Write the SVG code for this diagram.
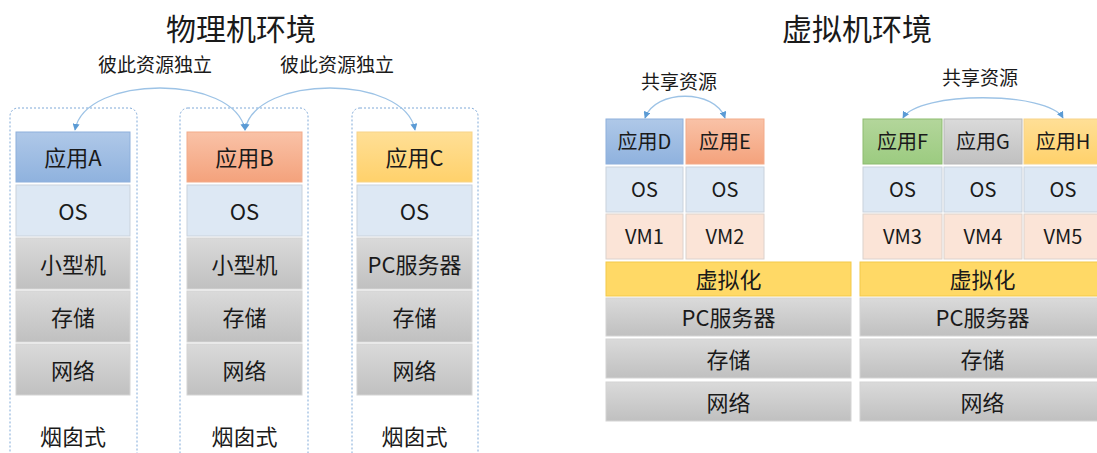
<svg xmlns="http://www.w3.org/2000/svg" width="1097" height="453" viewBox="0 0 1097 453">
<style>
text{font-family:"Microsoft YaHei","Noto Sans CJK SC","Liberation Sans",sans-serif;fill:#1a1a1a;text-anchor:middle;dominant-baseline:central}
.t{font-size:30px}
.l{font-size:19px}
.b{font-size:22px}
.s{font-size:20px}
.cont{fill:none;stroke:#7fa9d8;stroke-width:1;stroke-dasharray:2 2}
.blue{fill:url(#gBlue);stroke:#8eb0dc}
.orange{fill:url(#gOrange);stroke:#f3ab8a}
.yellow{fill:url(#gYellow);stroke:#f7d489}
.green{fill:url(#gGreen);stroke:#8dbb70}
.grayapp{fill:url(#gGray);stroke:#b8b8b8}
.os{fill:#dde8f4;stroke:#c9d2dc}
.gray{fill:url(#gGray);stroke:#d4d4d4}
.vm{fill:#fbe4d7;stroke:#dcd2cc}
.virt{fill:#ffd966;stroke:#f3c94a}
.arc{fill:none;stroke:#9dc3e6;stroke-width:1.3;marker-start:url(#ah);marker-end:url(#ah)}
</style>
<defs>
<linearGradient id="gBlue" x1="0" y1="0" x2="0" y2="1"><stop offset="0" stop-color="#afc8e8"/><stop offset="1" stop-color="#8fb2de"/></linearGradient>
<linearGradient id="gOrange" x1="0" y1="0" x2="0" y2="1"><stop offset="0" stop-color="#f9c2a7"/><stop offset="1" stop-color="#f4a27c"/></linearGradient>
<linearGradient id="gYellow" x1="0" y1="0" x2="0" y2="1"><stop offset="0" stop-color="#ffdf96"/><stop offset="1" stop-color="#ffd16b"/></linearGradient>
<linearGradient id="gGreen" x1="0" y1="0" x2="0" y2="1"><stop offset="0" stop-color="#b3d69b"/><stop offset="1" stop-color="#9ccb80"/></linearGradient>
<linearGradient id="gGray" x1="0" y1="0" x2="0" y2="1"><stop offset="0" stop-color="#dadada"/><stop offset="1" stop-color="#c0c0c0"/></linearGradient>
<marker id="ah" viewBox="0 0 10 10" refX="9" refY="5" markerWidth="7" markerHeight="7" markerUnits="userSpaceOnUse" orient="auto-start-reverse"><path d="M0,0 L10,5 L0,10 z" fill="#5b9bd5"/></marker>
</defs>

<g id="titles">
<text class="t" x="241" y="27">物理机环境</text>
<text class="t" x="857" y="27">虚拟机环境</text>
<text class="l" x="155" y="63">彼此资源独立</text>
<text class="l" x="337" y="63">彼此资源独立</text>
<text class="l" x="679" y="80">共享资源</text>
<text class="l" x="980" y="76">共享资源</text>
</g>

<g id="stackA">
<rect class="cont" x="10" y="108" width="127" height="360" rx="8"/>
<rect class="blue" x="16" y="132" width="114" height="50"/><text class="b" x="73" y="156">应用A</text>
<rect class="os" x="16" y="185" width="114" height="51"/><text class="b" x="73" y="209.5">OS</text>
<rect class="gray" x="16" y="238" width="114" height="51"/><text class="b" x="73" y="262.5">小型机</text>
<rect class="gray" x="16" y="291" width="114" height="51"/><text class="b" x="73" y="315.5">存储</text>
<rect class="gray" x="16" y="344" width="114" height="51"/><text class="b" x="73" y="368.5">网络</text>
<text class="b" x="73" y="435">烟囱式</text>
</g>

<g id="stackB">
<rect class="cont" x="180" y="108" width="128" height="360" rx="8"/>
<rect class="orange" x="187" y="132" width="115" height="50"/><text class="b" x="244.5" y="156">应用B</text>
<rect class="os" x="187" y="185" width="115" height="51"/><text class="b" x="244.5" y="209.5">OS</text>
<rect class="gray" x="187" y="238" width="115" height="51"/><text class="b" x="244.5" y="262.5">小型机</text>
<rect class="gray" x="187" y="291" width="115" height="51"/><text class="b" x="244.5" y="315.5">存储</text>
<rect class="gray" x="187" y="344" width="115" height="51"/><text class="b" x="244.5" y="368.5">网络</text>
<text class="b" x="244.5" y="435">烟囱式</text>
</g>

<g id="stackC">
<rect class="cont" x="352" y="108" width="126" height="360" rx="8"/>
<rect class="yellow" x="357" y="132" width="115" height="50"/><text class="b" x="414.5" y="156">应用C</text>
<rect class="os" x="357" y="185" width="115" height="51"/><text class="b" x="414.5" y="209.5">OS</text>
<rect class="gray" x="357" y="238" width="115" height="51"/><text class="b" x="414.5" y="262.5">PC服务器</text>
<rect class="gray" x="357" y="291" width="115" height="51"/><text class="b" x="414.5" y="315.5">存储</text>
<rect class="gray" x="357" y="344" width="115" height="51"/><text class="b" x="414.5" y="368.5">网络</text>
<text class="b" x="414.5" y="435">烟囱式</text>
</g>

<g id="virt1">
<rect class="blue" x="606" y="119" width="77" height="45"/><text class="s" x="644.5" y="140.5">应用D</text>
<rect class="orange" x="686" y="119" width="78" height="45"/><text class="s" x="725" y="140.5">应用E</text>
<rect class="os" x="606" y="167" width="77" height="45"/><text class="s" x="644.5" y="188.5">OS</text>
<rect class="os" x="686" y="167" width="78" height="45"/><text class="s" x="725" y="188.5">OS</text>
<rect class="vm" x="606" y="214" width="77" height="45"/><text class="s" x="644.5" y="235.5">VM1</text>
<rect class="vm" x="686" y="214" width="78" height="45"/><text class="s" x="725" y="235.5">VM2</text>
<rect class="virt" x="606" y="262" width="245" height="34"/><text class="b" x="728.5" y="278">虚拟化</text>
<rect class="gray" x="606" y="298" width="245" height="38"/><text class="b" x="728.5" y="316">PC服务器</text>
<rect class="gray" x="606" y="339" width="245" height="39"/><text class="b" x="728.5" y="357.5">存储</text>
<rect class="gray" x="606" y="382" width="245" height="39"/><text class="b" x="728.5" y="400.5">网络</text>
</g>

<g id="virt2">
<rect class="green" x="863" y="119" width="79" height="45"/><text class="s" x="902.5" y="140.5">应用F</text>
<rect class="grayapp" x="944" y="119" width="78" height="45"/><text class="s" x="983" y="140.5">应用G</text>
<rect class="yellow" x="1024" y="119" width="78" height="45"/><text class="s" x="1063" y="140.5">应用H</text>
<rect class="os" x="863" y="167" width="79" height="45"/><text class="s" x="902.5" y="188.5">OS</text>
<rect class="os" x="944" y="167" width="78" height="45"/><text class="s" x="983" y="188.5">OS</text>
<rect class="os" x="1024" y="167" width="78" height="45"/><text class="s" x="1063" y="188.5">OS</text>
<rect class="vm" x="863" y="214" width="79" height="45"/><text class="s" x="902.5" y="235.5">VM3</text>
<rect class="vm" x="944" y="214" width="78" height="45"/><text class="s" x="983" y="235.5">VM4</text>
<rect class="vm" x="1024" y="214" width="78" height="45"/><text class="s" x="1063" y="235.5">VM5</text>
<rect class="virt" x="860" y="262" width="245" height="34"/><text class="b" x="982.5" y="278">虚拟化</text>
<rect class="gray" x="860" y="298" width="245" height="38"/><text class="b" x="982.5" y="316">PC服务器</text>
<rect class="gray" x="860" y="339" width="245" height="39"/><text class="b" x="982.5" y="357.5">存储</text>
<rect class="gray" x="860" y="382" width="245" height="39"/><text class="b" x="982.5" y="400.5">网络</text>
</g>

<g id="connectors">
<path class="arc" d="M245,130 C235,74 85,74 75,130"/>
<path class="arc" d="M245,130 C255,74 405,74 415,130"/>
<path class="arc" d="M645,118 C655,89 715,89 725,118"/>
<path class="arc" d="M903,118 C918,91 1048,91 1063,118"/>
</g>
</svg>
